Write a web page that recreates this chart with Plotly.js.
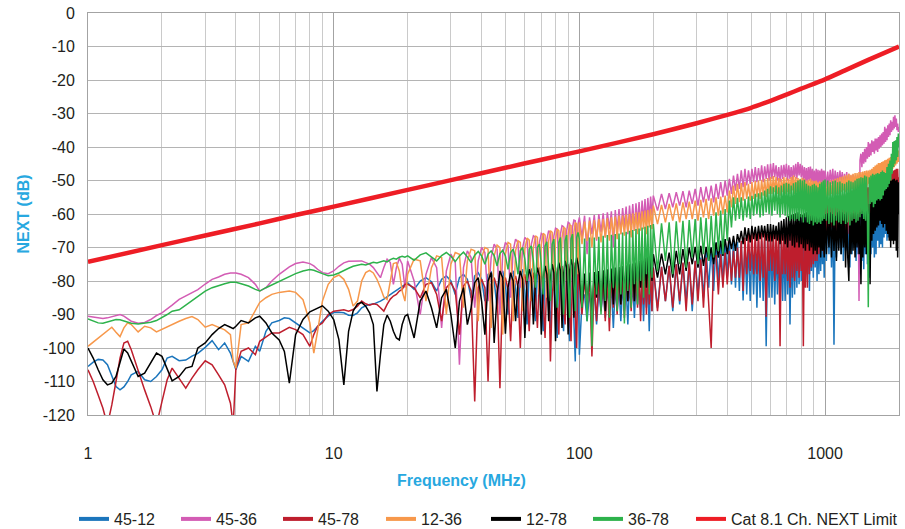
<!DOCTYPE html>
<html>
<head>
<meta charset="utf-8">
<script src="https://cdn.plot.ly/plotly-3.0.1.min.js"></script>
<style>html,body{margin:0;padding:0;background:#fff;}#chart{width:905px;height:529px;}</style>
</head>
<body>
<div id="chart"></div>
<script>
// Frequency grid (MHz) shared by the six measured pairs
const freq = [
  1, 1.05, 1.1, 1.15, 1.2, 1.25, 1.3, 1.35, 1.4, 1.45, 1.5, 1.6, 1.7, 1.8, 1.9, 2, 2.1, 2.2, 2.35, 2.5, 2.65, 2.8, 3, 3.2, 3.4, 3.6, 3.8, 3.9, 4, 4.2, 4.5, 4.8,
  5, 5.3, 5.6, 6, 6.3, 6.6, 7, 7.5, 8, 8.3, 8.6, 9, 9.5, 10, 10.5, 11, 11.5, 12, 12.5, 13, 13.5, 14, 14.5, 15, 15.5, 16, 16.5, 17, 17.5, 18, 18.5, 19, 19.5,
  20, 21.25, 22.5, 23.75, 25, 26.25, 27.5, 28.75,
  30, 31.25, 32.5, 33.75, 35, 36.25, 37.5, 38.75,
  40, 41.25, 42.5, 43.75, 45, 46.25, 47.5, 48.75,
  50, 51.25, 52.5, 53.75, 55, 56.25, 57.5, 58.75,
  60, 61.25, 62.5, 63.75, 65, 66.25, 67.5, 68.75,
  70, 71.25, 72.5, 73.75, 75, 76.25, 77.5, 78.75,
  80, 81.25, 82.5, 83.75, 85, 86.25, 87.5, 88.75,
  90, 91.25, 92.5, 93.75, 95, 96.25, 97.5, 98.75,
  100, 102.5, 105, 107.5, 110, 112.5, 115, 117.5, 120, 122.5,
  125, 127.5, 130, 132.5, 135, 137.5, 140, 142.5, 145, 147.5,
  150, 152.5, 155, 157.5, 160, 162.5, 165, 167.5, 170, 172.5,
  175, 177.5, 180, 182.5, 185, 187.5, 190, 192.5, 195, 197.5,
  200, 208, 216, 224, 232, 240, 248, 256, 264, 272,
  280, 288, 296, 304, 312, 320, 328, 336, 344, 352,
  360, 368, 376, 384, 392, 400, 408, 416, 424, 432,
  440, 448, 456, 464, 472, 480, 488, 496, 504, 512,
  520, 528, 536, 544, 552, 560, 568, 576, 584, 592,
  600, 608, 616, 624, 632, 640, 648, 656, 664, 672,
  680, 688, 696, 704, 712, 720, 728, 736, 744, 752,
  760, 768, 776, 784, 792, 800, 808, 816, 824, 832,
  840, 848, 856, 864, 872, 880, 888, 896, 904, 912,
  920, 928, 936, 944, 952, 960, 968, 976, 984, 992,
  1000, 1012.5, 1025, 1037.5, 1050, 1062.5, 1075, 1087.5, 1100, 1112.5,
  1125, 1137.5, 1150, 1162.5, 1175, 1187.5, 1200, 1212.5, 1225, 1237.5,
  1250, 1262.5, 1275, 1287.5, 1300, 1312.5, 1325, 1337.5, 1350, 1362.5,
  1375, 1387.5, 1400, 1412.5, 1425, 1437.5, 1450, 1462.5, 1475, 1487.5,
  1500, 1512.5, 1525, 1537.5, 1550, 1562.5, 1575, 1587.5, 1600, 1612.5,
  1625, 1637.5, 1650, 1662.5, 1675, 1687.5, 1700, 1712.5, 1725, 1737.5,
  1750, 1762.5, 1775, 1787.5, 1800, 1812.5, 1825, 1837.5, 1850, 1862.5,
  1875, 1887.5, 1900, 1912.5, 1925, 1937.5, 1950, 1962.5, 1975, 1987.5,
  2000
];

const pair4512 = [
  -105.5, -104.2, -103.4, -103.6, -105, -108.5, -111.5, -112.5, -111.6, -110, -108, -107, -109.5, -110, -108.5, -106.5, -103, -102.5, -103.8, -103.6, -102.4, -101.6, -99.8, -97.8, -100.5, -98.5, -101.5, -104, -106.5, -102.5, -104, -99.5,
  -101, -95, -92.5, -91.8, -91, -91.2, -92.5, -94, -95.5, -94.8, -93.5, -92, -90.5, -89.4, -89.3, -89.5, -90.2, -90.3, -89.5, -88, -87.4, -87, -86.9, -86.5, -86, -85.4, -84.8, -84, -83.4, -82.8, -82.2, -81.8, -81.3,
  -80.5, -82.5, -80, -79, -80.2, -83, -79.5, -78.5,
  -80, -84, -79, -78, -79.5, -85, -78.5, -77.5,
  -79.5, -86, -78, -77.3, -80, -88, -78, -77,
  -81, -90, -78.5, -77, -82, -91, -78, -76.5,
  -83, -93, -77.5, -76.3, -84, -92, -77, -76,
  -85, -95, -76.5, -75.5, -86, -94, -76, -75.2,
  -87, -97, -75.5, -74.8, -88, -95, -75, -74.5,
  -90, -98, -74.8, -74, -92, -104, -74.5, -73.8,
  -102, -86, -84, -92, -83.5, -90, -83.2, -93, -83, -89,
  -82.5, -91, -82.3, -88, -82, -94, -81.8, -89, -81.5, -92,
  -81.2, -89, -81, -93, -80.8, -88, -80.5, -91, -80.3, -87,
  -80, -90, -79.8, -92, -79.5, -88, -79.3, -95, -79, -89,
  -76, -88, -75.8, -86, -75.5, -89, -75, -87, -74.8, -86,
  -74.5, -89, -74, -84, -73, -85, -71, -82, -70, -83,
  -68.5, -80, -68, -81, -67.5, -79, -67.7, -81, -68, -82,
  -68.3, -83, -68.5, -85.8, -68.8, -84, -69, -86, -68.5, -84,
  -68.5, -88, -68.2, -85, -68, -86, -67.8, -99.5, -68, -85,
  -68, -85, -68.3, -87, -69, -84, -68.8, -90, -68.5, -86,
  -68, -86, -67.5, -84, -67, -93, -67.3, -85, -66.8, -84,
  -66, -82, -64, -81, -62, -80, -61, -78, -60, -80,
  -59.5, -78, -59, -83, -58.8, -77, -58.5, -79, -59, -76,
  -60, -80, -59.5, -78, -59, -77, -60, -75, -61, -79,
  -60, -74, -59, -72, -58.5, -76, -58.5, -99, -58, -73,
  -58, -70, -58.5, -72, -59, -74, -58, -71, -57.5, -72,
  -57.5, -76, -58, -72, -57.5, -70, -57, -74, -56.8, -72,
  -56.5, -78, -57, -74, -56.5, -76.5, -56, -72, -56, -75,
  -55.5, -79, -55.5, -72, -55, -70, -55, -73, -54.8, -72,
  -54.5, -68, -54.3, -70, -54, -69, -53.5, -70, -53, -67,
  -52.8, -66, -52.5, -68, -52.2, -67, -52, -65, -51.5, -66,
  -51, -67, -50.8, -64, -50.5, -62, -50.2, -63, -50, -60,
  -56
];

const pair4536 = [
  -90.5, -90.8, -91, -91.2, -91, -90.6, -90.2, -90, -90.5, -91.2, -92, -92.6, -92.4, -91.5, -90.3, -89.5, -88.4, -87.2, -85.5, -84.4, -83.4, -82.6, -80.9, -79.5, -78.8, -78, -77.6, -77.5, -77.6, -78, -79, -81,
  -83, -82, -80, -78, -76.8, -75.8, -74.8, -74.3, -74.8, -75.5, -76.5, -77.5, -77.8, -77, -75.6, -74.6, -74.1, -74, -73.9, -74, -74.5, -75, -76, -77.5, -79, -76, -73.5, -74.5, -81, -76, -73.2, -75, -82,
  -74, -80, -90, -78, -73, -76, -94, -77,
  -72, -74.5, -105, -76, -71, -73, -88, -74,
  -70, -71.5, -86, -73, -69, -70.5, -90, -72,
  -68.5, -69.5, -85, -71, -67.5, -68.5, -82, -70,
  -67, -67.8, -80, -69, -66.5, -67, -78, -68.5,
  -65.8, -66.3, -79, -67.5, -65, -65.6, -77, -66.5,
  -64.2, -64.5, -76, -66, -63.5, -63.8, -75, -65,
  -62.5, -62.8, -74, -64, -61.8, -62, -73, -63,
  -61, -67, -60.5, -72, -61, -66, -60.3, -68, -60, -65.5,
  -59.8, -67, -59.5, -64.5, -59.2, -70, -58.8, -65, -58.5, -66,
  -58.2, -64, -57.8, -66, -57.5, -63.5, -57, -65, -56.8, -63,
  -56.4, -64, -56, -62.5, -55.5, -63, -55.2, -61.5, -54.8, -60.5,
  -54.5, -59, -54, -58.5, -53.8, -58, -53.5, -57.5, -53.2, -58,
  -53, -57, -52.5, -57.5, -52, -56.5, -51.8, -56, -51.5, -56.5,
  -51, -55.5, -50.5, -55, -50, -54.5, -49.5, -54, -48.5, -53,
  -48, -52.5, -47, -52, -46.5, -51.5, -47, -51, -46.5, -50.5,
  -46, -50.5, -46.3, -50, -45.5, -50.5, -45.8, -49.5, -45.2, -50,
  -45, -49.5, -44.8, -49, -45.5, -50, -46, -50.5, -45.5, -49.5,
  -45.3, -49, -45, -50, -45.5, -49.5, -46, -50, -45.5, -49,
  -45, -49.5, -44.5, -48.5, -45, -49, -45.5, -50, -46, -50.5,
  -46.3, -51, -46, -50, -45.8, -50.5, -46.5, -51, -47, -51.5,
  -46.5, -51, -46.8, -51.5, -47, -52, -46.5, -51, -47, -51.5,
  -47, -52, -47.3, -51.5, -46.8, -51, -46.5, -52, -47, -51.5,
  -47.5, -52, -47, -51, -47.5, -52.5, -48, -52, -47.5, -52.5,
  -48, -53, -48.5, -52.5, -48.2, -53.5, -48.8, -54, -49, -53,
  -86, -44, -42, -46, -41.5, -45, -40.5, -44.5, -40, -43.5,
  -38.5, -43, -39, -42.5, -38, -41.5, -38.3, -42, -37.5, -41,
  -37.5, -41.5, -37, -40.5, -36.5, -40, -36, -39.5, -35.5, -39,
  -34, -38.5, -34.5, -38, -33.5, -37, -33, -36.5, -32, -35.5,
  -32.5, -35, -31, -34.5, -30.5, -34, -31.5, -35, -33, -35.5,
  -34
];

const pair4578 = [
  -106.5, -110, -114, -118, -123, -117, -110, -103, -98.5, -98, -100.5, -107, -112.5, -117.5, -123, -116, -109.5, -106, -109, -112, -109, -106.5, -103.8, -105, -108, -111, -116.5, -123, -106, -101, -100, -102,
  -98, -96.8, -95.5, -95.5, -94.5, -93.8, -94.5, -96, -99.5, -96, -93.5, -92.5, -90, -89, -88.8, -88.6, -89, -88.5, -87.5, -86, -86.8, -87.2, -86.8, -87, -88, -89, -87, -85.4, -84.5, -84, -83, -82.5, -81,
  -81, -82, -85, -81, -80.5, -84, -92, -82,
  -80.5, -83, -96, -81.5, -80, -83, -116, -82,
  -79.5, -82, -110, -81, -79, -82, -112, -81,
  -79, -82.5, -98, -80.5, -78.5, -82, -100, -80,
  -78, -83, -95, -79.5, -77.5, -84, -94, -79,
  -77, -85, -97, -78.5, -76.5, -104, -85, -78,
  -76, -86, -96, -77.5, -75.5, -88, -93, -77,
  -75, -89, -98, -76.5, -74.5, -90, -100, -76,
  -80, -90, -79.5, -88, -79, -102.5, -79.3, -92, -79, -89,
  -78.8, -92, -78.5, -95, -78.3, -88, -78.5, -90, -78, -87,
  -77.8, -91, -77.5, -86, -77.3, -89, -77, -86, -77.5, -88,
  -77, -92, -76.8, -87, -76.5, -90, -76.3, -87, -76, -89,
  -76, -89, -75.8, -86, -75.5, -88, -75, -86, -74.5, -89,
  -74.3, -87, -74, -86, -73.5, -88, -73, -86, -100, -72.8,
  -72.5, -84, -72, -82, -71.5, -81, -71, -80, -71, -79,
  -70, -79, -68, -83, -67, -78, -66, -77, -65.5, -78,
  -65.5, -78, -65.3, -80, -65.5, -79, -65.3, -90.7, -66, -77,
  -65.5, -77, -65, -80, -65.5, -78, -65.8, -99.5, -66, -78,
  -66, -78, -65.5, -80, -65, -82, -65.3, -79, -64.5, -80,
  -65, -77, -65.5, -79, -66, -77, -65.5, -99.5, -64, -82,
  -63, -82, -61.5, -78, -60, -76, -59, -75, -58, -74,
  -57.5, -74, -57, -72, -57, -70, -56.5, -71, -56.5, -72,
  -56.5, -66, -56, -68, -55.5, -64, -55.5, -67, -55, -65,
  -55, -66, -54.5, -64, -54.5, -67, -54, -65, -53.8, -66,
  -53.5, -65, -53.2, -64, -53, -66, -52, -63, -51, -62,
  -50.5, -61, -49.5, -60, -49, -58, -48.7, -59, -50, -60,
  -52, -62, -53, -61, -53.5, -63, -53, -62, -52.5, -61,
  -52, -60, -51.8, -61, -51.5, -59, -51.5, -60, -51, -58,
  -50, -57, -49.5, -58, -49, -56, -48.5, -56, -48, -55,
  -47.5, -55, -47, -54, -46.8, -54, -46.5, -53, -46.5, -53,
  -49
];

const pair1236 = [
  -99.5, -98.2, -97, -95.8, -94.6, -93.8, -95.3, -96.6, -94, -92.5, -93, -95.2, -93.5, -94, -95.2, -94.4, -93.6, -92.9, -92, -91.2, -90.6, -91.5, -93.8, -93, -93.8, -94.6, -96, -104, -106, -93, -92.5, -89,
  -86.4, -85, -84, -83.4, -83.1, -83, -83.4, -85.6, -92.5, -101.5, -95, -86, -81, -79, -78.2, -79.5, -82.5, -87.5, -86, -80, -77.5, -76.8, -77.6, -79.5, -82, -84.8, -85.5, -80, -74.8, -74.5, -77, -83, -86,
  -78, -73.5, -74, -86, -76, -72.5, -73, -90,
  -75, -71.5, -72, -88, -74, -70.5, -71, -92,
  -73, -70, -70.5, -94, -72.5, -69.3, -70, -96,
  -72, -68.5, -69, -92, -71, -68, -68.5, -89,
  -70.5, -67.2, -67.8, -86, -70, -66.5, -67, -84,
  -69, -65.8, -66.3, -85, -68, -65, -65.5, -83,
  -67.5, -64.5, -65, -81, -67, -64, -64.3, -80,
  -66, -63.2, -63.5, -79, -65.5, -62.5, -63, -78,
  -62.5, -69, -62.3, -68, -62, -70, -61.8, -67.5, -61.5, -68.5,
  -61.5, -67, -61.2, -68, -61, -66.5, -60.8, -67.5, -60.5, -66,
  -60.5, -66.5, -60.2, -65.5, -60, -67, -59.8, -65, -59.5, -66,
  -59.5, -65, -59.2, -64.5, -59, -66, -58.8, -64, -58.5, -64.5,
  -57.5, -63, -57.3, -62.5, -57, -62, -56.8, -62.5, -56.5, -61.5,
  -56.3, -61.5, -56, -62, -55.8, -61, -55.5, -61.5, -55.3, -60.5,
  -55, -60.5, -54.8, -60, -54.5, -59.5, -53, -58, -51.5, -57,
  -51, -56.5, -50.8, -56, -50.5, -55.5, -51, -56, -50.5, -55.5,
  -50.2, -55, -50, -55.5, -49.8, -54.5, -49.5, -55, -49.3, -54,
  -49, -54, -48.7, -53.5, -49, -54, -49.3, -54.5, -49.5, -53.5,
  -49, -54, -49.2, -53.5, -49.5, -54, -49, -53, -48.5, -54,
  -49, -53.5, -49.3, -54, -49.5, -54.5, -49.2, -53.5, -49.5, -54,
  -50, -54.5, -49.8, -55, -49.5, -54.5, -50, -55, -50.2, -54.5,
  -50, -55, -50.5, -54.5, -50.2, -55, -50.5, -55.5, -50, -54.5,
  -50.5, -55, -50.2, -54.5, -50, -54, -49.8, -54.5, -49.5, -54,
  -49.3, -54, -49, -53.5, -48.8, -53, -48.5, -53.5, -48.3, -53,
  -48, -53.5, -48.3, -52.5, -48, -53, -47.8, -52.5, -47.8, -52,
  -47.5, -52.5, -47.5, -52, -47.3, -51.5, -47.2, -52, -47, -51.5,
  -47, -51, -46.8, -50.5, -46.5, -50, -46, -50.5, -45.5, -49.5,
  -45.2, -49.5, -44.8, -49, -44.8, -49, -44.5, -48.5, -44.3, -48.5,
  -44, -48, -43.8, -47.5, -43.5, -47.5, -43.2, -47, -43, -46.5,
  -42.8, -46.5, -42.5, -46, -42.2, -45.5, -41.5, -45, -41.2, -44.5,
  -41
];

const pair1278 = [
  -100, -103, -106.5, -109.5, -111, -110.5, -108.5, -104, -100.3, -101.5, -104, -108.5, -107.5, -104.5, -101.5, -102.5, -106, -109.8, -108.5, -106, -105.5, -100, -98.5, -96, -94.2, -93, -93.8, -94.2, -93.5, -91.8, -92.5, -91,
  -90.5, -92.5, -95.5, -97.6, -101, -110.5, -96, -91.5, -89.2, -88.6, -88, -87.4, -89, -91.5, -97.5, -111, -95, -89, -86.8, -86.4, -87.5, -89.5, -93, -113, -102, -93, -90.2, -92, -95, -97, -97.6, -93, -90.5,
  -90, -97, -86, -83, -88, -94, -85, -82.5,
  -90, -100, -86, -82, -93, -88, -80.5, -79,
  -86, -96, -80, -77.5, -98.5, -84, -77, -79,
  -95.7, -82, -77.5, -80, -92, -81, -77, -79.5,
  -97, -80, -76.5, -79, -93, -80, -76, -78.5,
  -96, -79.5, -75.5, -78, -92, -79, -75, -77.5,
  -98, -78, -74.5, -77, -94, -78, -74, -76,
  -96, -77, -73.5, -75.5, -91, -76, -73, -75,
  -78, -88, -77.8, -86, -77.5, -89, -77.3, -85, -77, -87,
  -76.8, -89, -76.5, -85, -76.3, -87, -76, -84, -75.8, -87,
  -75.5, -83, -75.3, -86, -75, -84, -74.8, -86, -74.5, -80,
  -74, -82, -73.5, -80, -73, -82, -72.8, -79, -72.5, -80,
  -72, -79, -71.8, -78, -71.5, -79, -71, -78, -70.5, -77,
  -70, -75, -69.8, -76, -69.5, -75.5, -69.8, -74, -70, -75,
  -68.5, -73, -68, -72.5, -67.5, -72, -67, -70.5, -66.5, -71,
  -66, -68.5, -65, -69, -64, -68, -64.2, -68.5, -63.5, -67.5,
  -63.8, -68, -63.5, -67.5, -63.4, -67, -63.5, -68, -63, -68.2,
  -63, -68.2, -63.2, -67.5, -63.5, -68, -62.5, -69, -62, -68,
  -61.5, -69, -61, -70, -60.5, -68, -60.2, -69.5, -60, -70,
  -59.8, -68.5, -59.5, -70, -60, -69, -60.2, -70.2, -59.8, -71,
  -59.5, -69, -60, -71, -60.5, -70, -59.5, -72, -60, -71,
  -59.5, -72, -60, -70, -59.8, -73, -59.5, -71, -60, -73,
  -60, -72, -59.8, -70, -59.5, -73, -60, -71, -60.5, -74,
  -59.5, -71, -59, -72, -59.5, -70, -60, -76, -59.5, -73,
  -80, -60, -72, -59.5, -71, -59.8, -73, -59.5, -70, -60,
  -72, -59.5, -81, -59, -73, -58.8, -70, -59, -72, -58.5,
  -70, -57, -81, -56, -68, -55, -66, -53.5, -65, -53,
  -64, -52.5, -63.4, -52, -62, -51.7, -63, -52, -64, -51.8,
  -63, -51.5, -65, -51.5, -66, -50.5, -68, -50, -70, -50,
  -68, -49.7, -69, -49.5, -68, -50, -71, -49.8, -73, -50.5,
  -60
];

const pair3678 = [
  -91.3, -92, -92.5, -92.6, -92.2, -91.8, -91.5, -91.6, -92, -92.3, -92.6, -92.8, -92.6, -92.3, -91.8, -91, -90, -89, -88.6, -87.2, -85.8, -84.6, -83, -82, -81.3, -80.8, -80.4, -80.3, -80.4, -80.8, -81.5, -82.5,
  -83, -82, -81.2, -80, -79.3, -78.6, -77.8, -77, -76.6, -76.8, -77.3, -77.8, -78.4, -78.2, -77.6, -76.8, -76.2, -75.6, -75.2, -75, -75.2, -74.8, -74.4, -74.6, -74.2, -74, -74.3, -73.6, -73.2, -73.5, -72.9, -72.6, -72.9,
  -72.5, -73.8, -72.2, -71.6, -72.8, -74, -72.4, -71.5,
  -72.6, -74.2, -72.5, -71.4, -72.8, -74.5, -72.3, -71.2,
  -72.5, -75, -72, -71, -72.4, -75.5, -71.8, -70.8,
  -72.5, -76.5, -71.5, -70.5, -73, -78, -71, -70,
  -73.5, -80, -70.5, -69.5, -74, -82, -70, -69,
  -75, -84, -69.5, -68.3, -76, -86, -69, -67.5,
  -77, -88, -68.5, -67, -78, -90, -68, -66.3,
  -79, -91, -67.5, -66, -80, -89, -67, -65.5,
  -67.5, -88, -67.3, -92, -67, -99.5, -67, -84, -66.8, -90,
  -66.5, -86, -66.3, -91, -66.2, -82, -66, -89, -65.8, -84,
  -65.5, -92.7, -65.3, -83, -65, -88, -64.8, -81, -64.5, -87,
  -64.3, -80, -64, -85, -63.8, -78, -63.5, -84, -63.3, -79,
  -63, -77, -62.8, -74, -62.5, -78, -62.2, -75, -62, -76,
  -61.8, -73, -61.5, -75, -61, -72, -61.2, -74, -60.5, -73,
  -59.5, -71, -59, -72, -58.5, -68, -56, -64, -55, -62,
  -55.2, -61.5, -55, -62, -55.5, -61, -54.8, -61.5, -54.6, -60.5,
  -54, -60, -53.8, -61, -53.5, -60.5, -53, -59.5, -52.5, -60,
  -51.7, -60.5, -52, -59, -51.5, -60, -52, -61, -51.5, -60,
  -51, -60.5, -50.7, -61, -51, -62, -51.5, -61.5, -50.8, -62,
  -50.5, -61.5, -50, -62, -49.7, -61, -50, -62.5, -49.8, -61,
  -51, -62.5, -51.5, -63, -51.7, -62, -51.3, -63.4, -51, -62.5,
  -51.5, -63, -52, -62.5, -51, -63, -50.5, -62, -50, -61.5,
  -49.7, -62, -50, -63, -50.5, -62.5, -50.2, -63.4, -50, -62,
  -50.5, -62.5, -50.3, -63, -50.8, -62, -51, -63, -50.5, -62.5,
  -50, -63.4, -50.3, -62, -50.5, -61.5, -50, -62.5, -49.5, -62,
  -49.3, -61, -49, -60, -49.2, -61.5, -48.5, -62, -48.8, -60,
  -87.8, -49, -57, -48.5, -56.5, -48, -58, -48.3, -57, -48,
  -56, -47.8, -55.5, -48, -56, -47.5, -55.5, -47, -54.5, -47.5,
  -53, -47.8, -52.5, -46, -52, -45, -51, -44, -50, -42,
  -48, -38.5, -46, -38.2, -45, -38, -44, -37, -43, -36,
  -40
];

// Cat 8.1 channel NEXT limit
const limitFreq = [1, 2, 3, 5, 7, 10, 20, 30, 50, 70, 100, 200, 300, 400, 500, 600, 700, 800, 1000, 1200, 1500, 2000];
const limitNext = [-74.3, -69.3, -66.4, -62.8, -60.3, -57.8, -52.8, -49.9, -46.2, -43.8, -41.3, -36.2, -32.9, -30.4, -28.3, -26.2, -24.3, -22.6, -19.8, -17.2, -14, -10];

const seriesNames = ['45-12', '45-36', '45-78', '12-36', '12-78', '36-78'];
const seriesValues = [pair4512, pair4536, pair4578, pair1236, pair1278, pair3678];
const seriesColors = ['#1b75bc', '#d35cb4', '#be1e2d', '#f7984b', '#000000', '#2db24b'];
const limitName = 'Cat 8.1 Ch. NEXT Limit';
const limitColor = '#ee1d25';

const yTickVals = [0, -10, -20, -30, -40, -50, -60, -70, -80, -90, -100, -110, -120];
const yTickText = ['0', '-10', '-20', '-30', '-40', '-50', '-60', '-70', '-80', '-90', '-100', '-110', '-120'];
const xTickVals = [1, 10, 100, 1000];
const xTickText = ['1', '10', '100', '1000'];

const FONT = 'Liberation Sans, Arial, Helvetica, sans-serif';
const BLUE = '#27a8e0';

// left edge (px) of each legend key box, one legend per entry
const legendLeftPx = [74, 176, 278, 381, 486, 588, 691];
const plotLeft = 88, plotWidth = 811, plotBottom = 415, plotHeight = 402;

const traces = seriesNames.map((name, i) => ({
  type: 'scatter', mode: 'lines', name: name, legendgroup: name, showlegend: false,
  x: freq, y: seriesValues[i],
  line: {color: seriesColors[i], width: 1.5},
  hoverinfo: 'skip'
}));
traces.push({
  type: 'scatter', mode: 'lines', name: limitName, legendgroup: limitName, showlegend: false,
  x: limitFreq, y: limitNext,
  line: {color: limitColor, width: 4.5, shape: 'spline', smoothing: 0.6},
  hoverinfo: 'skip'
});

const layout = {
  width: 905, height: 529,
  margin: {l: 88, r: 6, t: 13, b: 114, autoexpand: false},
  paper_bgcolor: '#ffffff', plot_bgcolor: '#ffffff',
  font: {family: FONT, size: 16, color: '#231f20'},
  hovermode: false,
  showlegend: true,
  xaxis: {
    type: 'log', range: [0, Math.log10(2000)],
    tickmode: 'array', tickvals: xTickVals, ticktext: xTickText,
    ticks: '', ticklabelstandoff: 24,
    tickfont: {family: FONT, size: 16, color: '#231f20'},
    showgrid: true, gridcolor: '#a3a3a3', gridwidth: 1,
    minor: {dtick: 'D1', showgrid: true, gridcolor: '#cacaca', gridwidth: 1, ticks: ''},
    showline: true, linecolor: '#a3a3a3', linewidth: 1, mirror: true,
    zeroline: false, fixedrange: true
  },
  yaxis: {
    range: [-120, 0],
    tickmode: 'array', tickvals: yTickVals, ticktext: yTickText,
    ticks: '', ticklabelstandoff: 9,
    tickfont: {family: FONT, size: 16, color: '#231f20'},
    showgrid: true, gridcolor: '#b4b4b4', gridwidth: 1,
    showline: true, linecolor: '#a3a3a3', linewidth: 1, mirror: true,
    zeroline: false, fixedrange: true,
    title: {text: '<b>NEXT (dB)</b>', font: {family: FONT, size: 16, color: BLUE}, standoff: 9}
  },
  annotations: [{
    text: '<b>Frequency (MHz)</b>', xref: 'paper', yref: 'paper',
    x: 0.461, y: -0.162, xanchor: 'center', yanchor: 'middle', showarrow: false,
    font: {family: FONT, size: 16, color: BLUE}
  }]
};

// legend keys: thick swatches like the reference, each entry in its own legend box
seriesNames.concat([limitName]).forEach((name, i) => {
  const key = i === 0 ? 'legend' : 'legend' + (i + 1);
  traces.push({
    type: 'scatter', mode: 'lines', name: name, legendgroup: name, showlegend: true,
    legend: key,
    x: [null], y: [null],
    line: {color: i < seriesColors.length ? seriesColors[i] : limitColor, width: 4},
    hoverinfo: 'skip'
  });
  layout[key] = {
    orientation: 'h',
    x: (legendLeftPx[i] - plotLeft) / plotWidth, xanchor: 'left',
    y: -(519 - plotBottom) / plotHeight, yanchor: 'middle',
    font: {family: FONT, size: 16, color: '#231f20'},
    itemwidth: 30, bgcolor: 'rgba(0,0,0,0)', borderwidth: 0
  };
});

Plotly.newPlot('chart', traces, layout, {staticPlot: true, displayModeBar: false});
</script>
</body>
</html>
